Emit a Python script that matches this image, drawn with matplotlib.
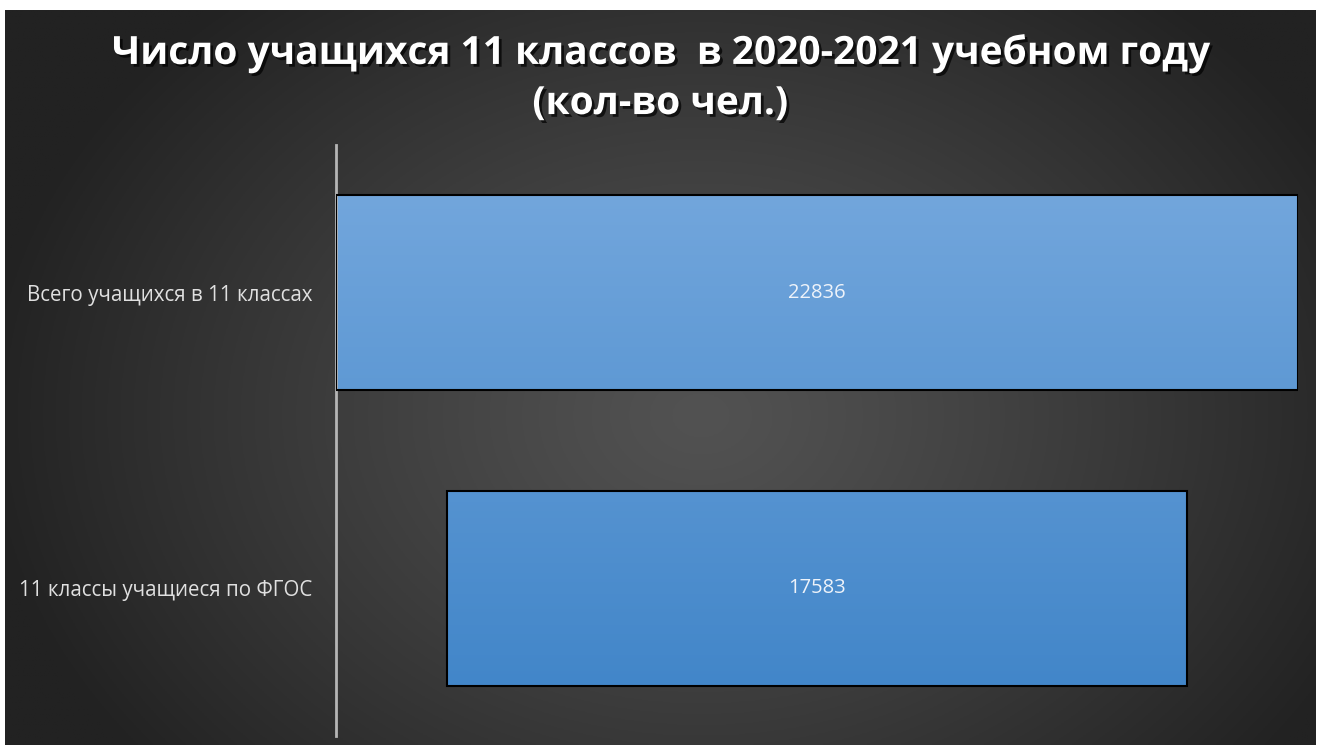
import numpy as np
import matplotlib
matplotlib.use("Agg")
from matplotlib import pyplot as plt
import matplotlib.patheffects as pe

# Данные
categories = ['11 классы учащиеся по ФГОС', 'Всего учащихся в 11 классах']
values = [17583, 22836]
title = 'Число учащихся 11 классов  в 2020-2021 учебном году\n(кол-во чел.)'

plt.rcParams['font.family'] = ['Open Sans', 'DejaVu Sans']

fig = plt.figure(figsize=(13.2, 7.45), dpi=100, facecolor='white')

# фон: радиальный градиент
bg = fig.add_axes([5 / 1320, 0, 1311 / 1320, 735 / 745], zorder=-10)
h, w = 300, 540
yy, xx = np.mgrid[0:h, 0:w]
r = np.sqrt(((xx - w * 0.53) / (w * 0.55)) ** 2 + ((yy - h * 0.55) / (h * 0.75)) ** 2)
t = np.clip(r, 0, 1) ** 1.2
c0 = np.array([0x52, 0x52, 0x52]) / 255
c1 = np.array([0x22, 0x22, 0x22]) / 255
img = c0[None, None, :] * (1 - t[..., None]) + c1[None, None, :] * t[..., None]
bg.imshow(img, aspect='auto', extent=(0, 1, 0, 1))
bg.axis('off')

# основной график
ax = fig.add_axes([336 / 1320, 1 - 736 / 745, 962 / 1320, 591 / 745])
ax.patch.set_alpha(0)

vmax = max(values)
lefts = [(vmax - v) / 2 for v in values]
bars = ax.barh(categories, values, left=lefts, height=0.66,
               facecolor='none', edgecolor='black', linewidth=1.5, zorder=3)

# градиент заливки столбцов
top_c = np.array([0x72, 0xa6, 0xdc]) / 255
bot_c = np.array([0x42, 0x86, 0xc9]) / 255
y_lo, y_hi = bars[0].get_y(), bars[1].get_y() + bars[1].get_height()
for b in bars:
    b0, b1 = b.get_y(), b.get_y() + b.get_height()
    s = np.linspace((y_hi - b1) / (y_hi - y_lo), (y_hi - b0) / (y_hi - y_lo), 64)
    g = top_c[None, :] * (1 - s[:, None]) + bot_c[None, :] * s[:, None]
    ax.imshow(g[:, None, :], aspect='auto', zorder=2,
              extent=(b.get_x(), b.get_x() + b.get_width(), b0, b1))

ax.set_xlim(0, vmax)
ax.set_ylim(-0.5, 1.5)

for b, v in zip(bars, values):
    ax.text(b.get_x() + b.get_width() / 2, b.get_y() + b.get_height() / 2, str(v),
            ha='center', va='center', color='#eef3fa', fontsize=14.5, zorder=4)

for s in ['top', 'right', 'bottom']:
    ax.spines[s].set_visible(False)
ax.spines['left'].set_color('#b5b5b5')
ax.spines['left'].set_linewidth(2)
ax.set_xticks([])
ax.tick_params(axis='y', length=0, pad=17, labelcolor='#e0e0e0', labelsize=14.8)

fig.text(0.5, 1 - 78 / 745, title, ha='center', va='center', color='white',
         fontsize=28, fontweight='bold', linespacing=1.37,
         path_effects=[pe.SimplePatchShadow(offset=(2, -2), shadow_rgbFace='black', alpha=0.7),
                       pe.Normal()])

fig.savefig('out.png', dpi=100, facecolor='white')
plt.close()
